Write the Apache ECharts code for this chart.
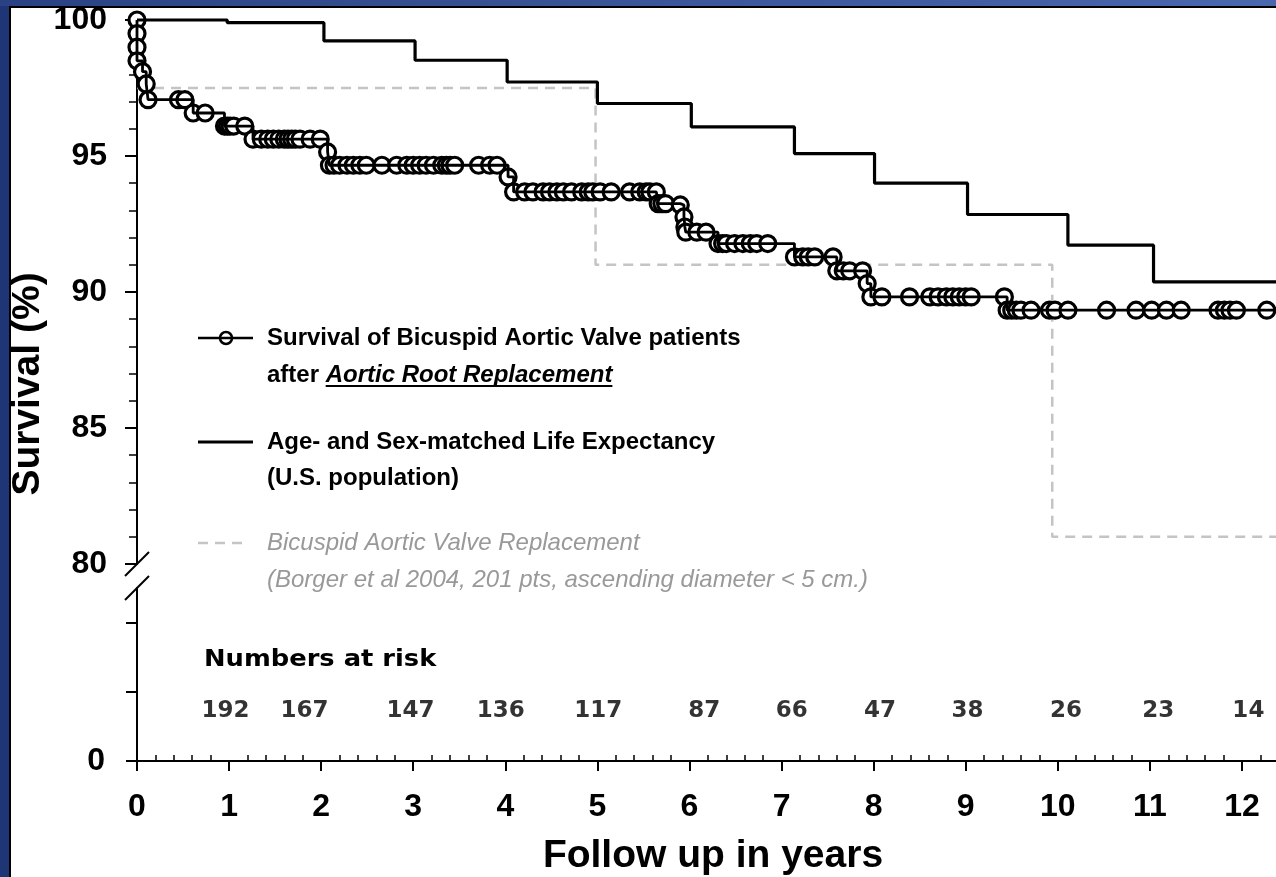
<!DOCTYPE html>
<html><head><meta charset="utf-8">
<script src="https://cdn.jsdelivr.net/npm/echarts@6/dist/echarts.min.js"></script>
<style>html,body{margin:0;padding:0;background:#fff;}#c{width:1276px;height:877px;}</style>
</head><body><div id="c"></div>
<script>
// ---- data ----
const kmX = [0.00,0.00,0.00,0.00,0.06,0.10,0.12,0.45,0.52,0.61,0.74,0.95,0.98,1.01,1.05,1.17,
  1.26,1.35,1.42,1.48,1.54,1.60,1.64,1.68,1.72,1.77,1.88,1.99,2.07,2.09,2.14,2.20,2.28,2.35,2.42,2.49,
  2.66,2.82,2.93,3.00,3.07,3.14,3.22,3.31,3.36,3.40,3.45,3.71,3.83,3.91,4.03,4.09,4.21,4.30,4.41,4.48,
  4.56,4.63,4.72,4.83,4.90,4.95,5.03,5.15,5.35,5.46,5.53,5.57,5.64,5.66,5.70,5.74,5.90,5.94,5.95,5.96,
  6.08,6.18,6.31,6.36,6.40,6.49,6.58,6.66,6.73,6.85,7.14,7.23,7.29,7.36,7.56,7.60,7.67,7.74,7.88,7.93,
  7.97,8.09,8.39,8.61,8.70,8.79,8.86,8.93,9.00,9.06,9.42,9.45,9.50,9.55,9.60,9.71,9.91,9.97,10.11,10.53,
  10.85,11.02,11.18,11.34,11.74,11.81,11.87,11.94,12.27];
const kmY = [100,99.5,99.0,98.5,98.1,97.65,97.07,97.07,97.07,96.58,96.58,96.1,96.1,96.1,96.1,96.1,
  95.62,95.62,95.62,95.62,95.62,95.62,95.62,95.62,95.62,95.62,95.62,95.62,95.15,94.66,94.66,94.66,94.66,94.66,94.66,94.66,
  94.66,94.66,94.66,94.66,94.66,94.66,94.66,94.66,94.66,94.66,94.66,94.66,94.66,94.66,94.23,93.68,93.68,93.68,93.68,93.68,
  93.68,93.68,93.68,93.68,93.68,93.68,93.68,93.68,93.68,93.68,93.68,93.68,93.68,93.25,93.25,93.25,93.2,92.76,92.39,92.2,
  92.2,92.2,91.78,91.78,91.78,91.78,91.78,91.78,91.78,91.78,91.29,91.29,91.29,91.29,91.29,90.78,90.78,90.78,90.78,90.31,
  89.82,89.82,89.82,89.82,89.82,89.82,89.82,89.82,89.82,89.82,89.82,89.33,89.33,89.33,89.33,89.33,89.33,89.33,89.33,89.33,
  89.33,89.33,89.33,89.33,89.33,89.33,89.33,89.33,89.33];
const lifeX = [0, 0.98, 2.03, 3.02, 4.02, 5.00, 6.02, 7.14, 8.01, 9.02, 10.11, 11.04];
const lifeY = [100, 99.9, 99.23, 98.52, 97.72, 96.93, 96.07, 95.09, 94.0, 92.85, 91.72, 90.37];
const borgerX = [0, 4.98, 9.94];
const borgerY = [97.5, 91.0, 81.0];
const riskX = [0.96, 1.82, 2.97, 3.95, 5.01, 6.16, 7.11, 8.07, 9.02, 10.09, 11.09, 12.07];
const riskN = [192, 167, 147, 136, 117, 87, 66, 47, 38, 26, 23, 14];
const xTickVals = [0,1,2,3,4,5,6,7,8,9,10,11,12];
const yUpperMin = 80, yUpperMax = 100, yUpperStep = 5;
const yLowerTicks = [0, 1, 2];
const yLowerLabels = [0];

const legendLines1 = ['Survival of Bicuspid Aortic Valve patients', 'after ', 'Aortic Root Replacement'];
const legendLines2 = ['Age- and Sex-matched Life Expectancy', '(U.S. population)'];
const legendLines3 = ['Bicuspid Aortic Valve Replacement', '(Borger et al 2004, 201 pts, ascending diameter < 5 cm.)'];
const riskTitle = 'Numbers at risk';
const xTitle = 'Follow up in years';
const yTitle = 'Survival (%)';

// ---- layout / style ----
const FONT = '"Liberation Sans", Arial, Helvetica, sans-serif';
const X_MAX = 12.37;
const LOWER_MAX = 2.507;
const RISK_ROW = 0.73;
const GL = 137;

const xMinor = [];
for (let i = 1; i * 0.2 <= X_MAX; i++) { if (i % 5) xMinor.push(+(i * 0.2).toFixed(1)); }

const pairs = (xs, ys) => xs.map((x, i) => [x, ys[i]]);
const withEnd = (xs, ys) => pairs(xs, ys).concat([[X_MAX, ys[ys.length - 1]]]);

const ctx = document.createElement('canvas').getContext('2d');
ctx.font = 'bold 24px ' + FONT;
const wAfter = ctx.measureText(legendLines1[1]).width;
ctx.font = 'italic bold 24px ' + FONT;
const wARR = ctx.measureText(legendLines1[2]).width;

const LX = 267;
const rows = [338, 375, 442, 478, 543, 580];
const blackLine = {color: '#000', width: 2};

const chart = echarts.init(document.getElementById('c'), null, {renderer: 'canvas'});
chart.setOption({
  backgroundColor: '#fff',
  animation: false,
  grid: [
    {left: GL, right: 0, top: 20, height: 544},
    {left: GL, right: 0, top: 588, height: 173}
  ],
  xAxis: [
    {gridIndex: 0, type: 'value', min: 0, max: X_MAX, show: false},
    {gridIndex: 1, type: 'value', min: 0, max: X_MAX, interval: 1,
      axisLine: {show: true, onZero: false, lineStyle: blackLine},
      axisTick: {show: true, length: 10, customValues: xTickVals, lineStyle: blackLine},
      axisLabel: {show: true, margin: 30, customValues: xTickVals, color: '#000', fontSize: 32, fontWeight: 'bold', fontFamily: FONT},
      splitLine: {show: false}},
    {gridIndex: 1, type: 'value', min: 0, max: X_MAX, position: 'bottom',
      axisLine: {show: false},
      axisTick: {show: true, inside: true, length: 6, customValues: xMinor, lineStyle: {color: '#000', width: 1.5}},
      axisLabel: {show: false}, splitLine: {show: false}}
  ],
  yAxis: [
    {gridIndex: 0, type: 'value', min: yUpperMin, max: yUpperMax, interval: yUpperStep,
      axisLine: {show: true, onZero: false, lineStyle: blackLine},
      axisTick: {show: true, length: 12, lineStyle: blackLine},
      minorTick: {show: true, splitNumber: 5, length: 8, lineStyle: {color: '#000', width: 1.5}},
      axisLabel: {margin: 30, color: '#000', fontSize: 32, fontWeight: 'bold', fontFamily: FONT},
      splitLine: {show: false}},
    {gridIndex: 1, type: 'value', min: 0, max: LOWER_MAX,
      axisLine: {show: true, onZero: false, lineStyle: blackLine},
      axisTick: {show: true, length: 11, customValues: yLowerTicks, lineStyle: blackLine},
      axisLabel: {margin: 32, customValues: yLowerLabels, color: '#000', fontSize: 32, fontWeight: 'bold', fontFamily: FONT},
      splitLine: {show: false}}
  ],
  series: [
    {type: 'line', name: 'Borger', xAxisIndex: 0, yAxisIndex: 0, step: 'end', showSymbol: false, clip: false, z: 1,
      data: withEnd(borgerX, borgerY), lineStyle: {color: '#c4c4c4', width: 2.5, type: [10, 7]}},
    {type: 'scatter', name: 'censor', xAxisIndex: 0, yAxisIndex: 0, clip: false, z: 2,
      symbol: 'circle', symbolSize: 16, data: pairs(kmX, kmY),
      itemStyle: {color: '#fff', borderColor: '#000', borderWidth: 3.2, opacity: 1}},
    {type: 'line', name: 'KM', xAxisIndex: 0, yAxisIndex: 0, step: 'end', showSymbol: false, clip: false, z: 3,
      data: withEnd(kmX, kmY), lineStyle: {color: '#000', width: 2.8}},
    {type: 'line', name: 'Life', xAxisIndex: 0, yAxisIndex: 0, step: 'end', showSymbol: false, clip: false, z: 3,
      data: withEnd(lifeX, lifeY), lineStyle: {color: '#000', width: 3.2}},
    {type: 'scatter', name: 'risk', xAxisIndex: 1, yAxisIndex: 1, silent: true, z: 4,
      symbolSize: 1, itemStyle: {color: 'rgba(0,0,0,0)'},
      data: riskX.map((x, i) => [x, RISK_ROW, riskN[i]]),
      label: {show: true, position: 'inside', formatter: p => String(p.value[2]),
        color: '#000', fontFamily: '"DejaVu Sans"', fontWeight: 'bold', fontSize: 23}}
  ],
  graphic: [
    // frame
    {type: 'rect', shape: {x: 0, y: 0, width: 9, height: 877}, style: {fill: '#1f3676'}, z: 100},
    {type: 'rect', shape: {x: 9, y: 6, width: 2, height: 871}, style: {fill: '#000'}, z: 100},
    {type: 'rect', shape: {x: 0, y: 0, width: 1276, height: 6}, z: 100,
      style: {fill: new echarts.graphic.LinearGradient(0, 0, 1, 0, [{offset: 0, color: '#2a4283'}, {offset: 1, color: '#4a68ae'}])}},
    {type: 'rect', shape: {x: 9, y: 6, width: 1267, height: 2}, style: {fill: '#000'}, z: 100},
    // axis break marks
    {type: 'line', shape: {x1: GL - 12, y1: 576, x2: GL + 12, y2: 552}, style: {stroke: '#000', lineWidth: 2}, z: 50},
    {type: 'line', shape: {x1: GL - 12, y1: 600, x2: GL + 12, y2: 576}, style: {stroke: '#000', lineWidth: 2}, z: 50},
    // axis titles
    {type: 'text', x: 28, y: 384, rotation: Math.PI / 2, z: 50,
      style: {text: yTitle, font: 'bold 39px ' + FONT, fill: '#000', align: 'center', verticalAlign: 'middle'}},
    {type: 'text', x: 713, y: 856, z: 50,
      style: {text: xTitle, font: 'bold 39px ' + FONT, fill: '#000', align: 'center', verticalAlign: 'middle'}},
    // legend
    {type: 'circle', shape: {cx: 226, cy: rows[0], r: 6}, style: {fill: '#fff', stroke: '#000', lineWidth: 2.5}, z: 50},
    {type: 'line', shape: {x1: 198, y1: rows[0], x2: 253, y2: rows[0]}, style: {stroke: '#000', lineWidth: 2.5}, z: 51},
    {type: 'text', x: LX, y: rows[0], z: 50, style: {text: legendLines1[0], font: 'bold 24px ' + FONT, fill: '#000', align: 'left', verticalAlign: 'middle'}},
    {type: 'text', x: LX, y: rows[1], z: 50, style: {text: legendLines1[1], font: 'bold 24px ' + FONT, fill: '#000', align: 'left', verticalAlign: 'middle'}},
    {type: 'text', x: LX + wAfter, y: rows[1], z: 50, style: {text: legendLines1[2], font: 'italic bold 24px ' + FONT, fill: '#000', align: 'left', verticalAlign: 'middle'}},
    {type: 'line', shape: {x1: LX + wAfter, y1: rows[1] + 11, x2: LX + wAfter + wARR, y2: rows[1] + 11}, style: {stroke: '#000', lineWidth: 2}, z: 50},
    {type: 'line', shape: {x1: 198, y1: rows[2], x2: 253, y2: rows[2]}, style: {stroke: '#000', lineWidth: 3}, z: 50},
    {type: 'text', x: LX, y: rows[2], z: 50, style: {text: legendLines2[0], font: 'bold 24px ' + FONT, fill: '#000', align: 'left', verticalAlign: 'middle'}},
    {type: 'text', x: LX, y: rows[3], z: 50, style: {text: legendLines2[1], font: 'bold 24px ' + FONT, fill: '#000', align: 'left', verticalAlign: 'middle'}},
    {type: 'line', shape: {x1: 198, y1: rows[4], x2: 246, y2: rows[4]}, style: {stroke: '#c4c4c4', lineWidth: 2.5, lineDash: [10, 7]}, z: 50},
    {type: 'text', x: LX, y: rows[4], z: 50, style: {text: legendLines3[0], font: 'italic 24px ' + FONT, fill: '#999', align: 'left', verticalAlign: 'middle'}},
    {type: 'text', x: LX, y: rows[5], z: 50, style: {text: legendLines3[1], font: 'italic 24px ' + FONT, fill: '#999', align: 'left', verticalAlign: 'middle'}},
    // numbers at risk title
    {type: 'text', x: 204, y: 660, scaleX: 1.12, z: 50, style: {text: riskTitle, font: 'bold 23px "DejaVu Sans"', fill: '#000', align: 'left', verticalAlign: 'middle'}}
  ]
});
</script></body></html>
